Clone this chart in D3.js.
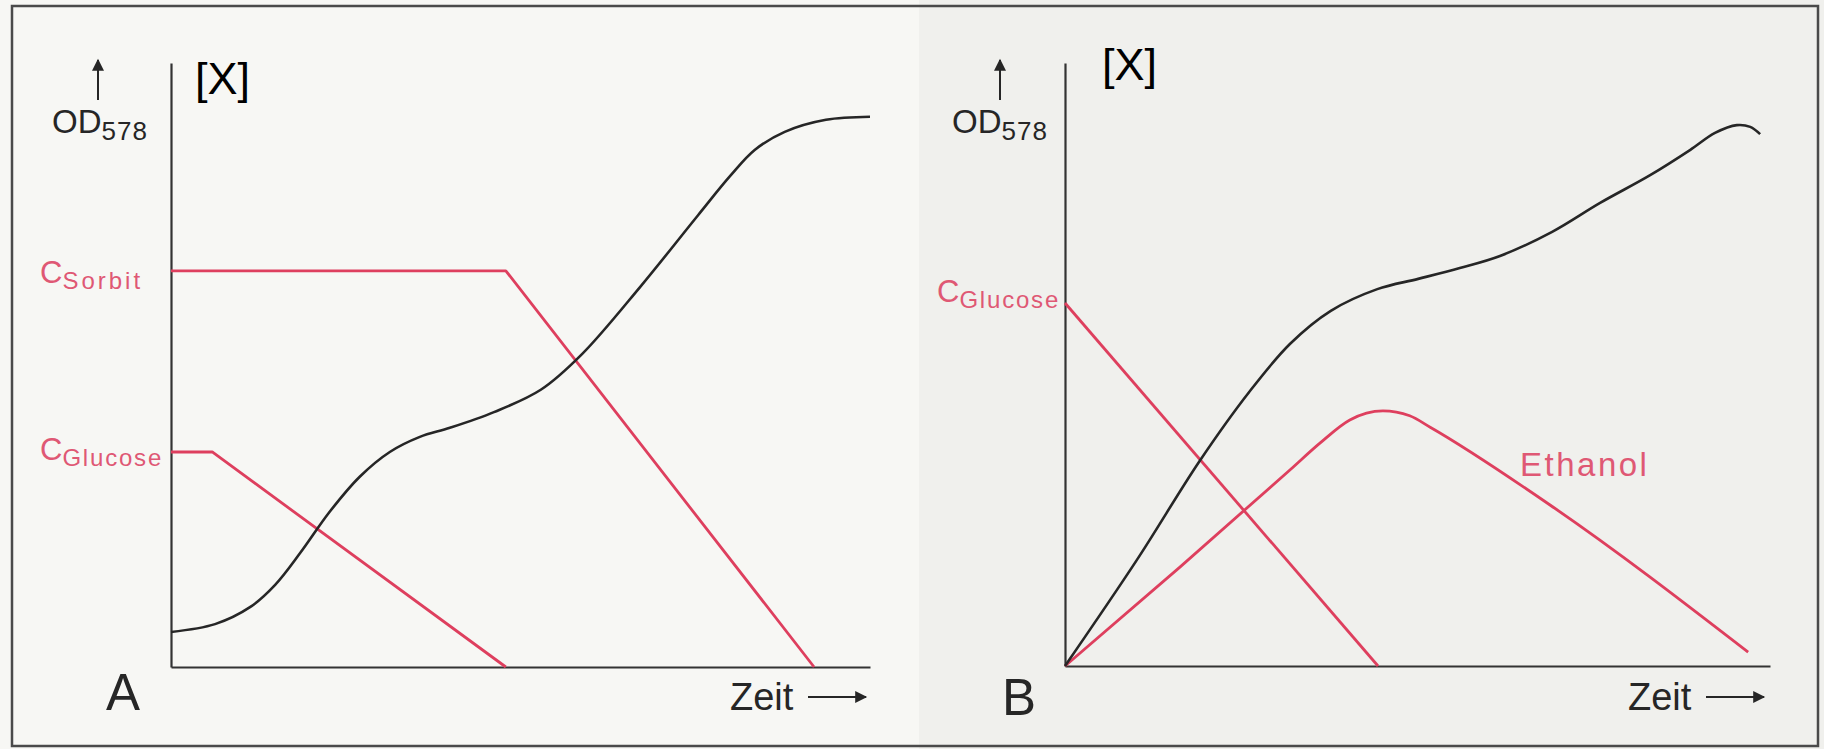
<!DOCTYPE html>
<html>
<head>
<meta charset="utf-8">
<script src="https://cdn.jsdelivr.net/npm/d3@7"></script>
<style>
  html, body { margin: 0; padding: 0; background: #f7f7f4; }
  svg { display: block; }
  text { font-family: "Liberation Sans", Arial, sans-serif; }
</style>
</head>
<body>
<div id="chart"></div>
<script>
// time and value in arbitrary units 0..100 (no ticks in the original)
var odA = [[0, 5.8], [6.3, 7.1], [11.3, 9.9], [14.9, 13.6], [18.5, 18.9], [22.7, 25.7], [27.0, 31.5],
    [31.3, 35.6], [35.6, 38.1], [39.9, 39.6], [46.2, 42.2], [52.9, 45.9], [58.8, 51.8], [67.1, 62.9],
    [75.4, 74.8], [80.0, 81.3], [83.5, 85.6], [87.8, 88.6], [93.7, 90.6], [100, 91.1]];
var sorbitA = [[0, 65.6], [47.9, 65.6], [92.0, 0]];
var glucoseA = [[0, 35.6], [5.9, 35.6], [47.9, 0]];

var odB = [[0, 0], [10.2, 17.6], [19.1, 34.0], [26.1, 45.4], [31.9, 53.4], [37.7, 58.9], [44.3, 62.5],
    [50.1, 64.2], [56.0, 66.0], [61.7, 68.0], [69.1, 72.0], [75.9, 76.8], [83.0, 81.4], [88.7, 85.6],
    [92.2, 88.4], [95.3, 89.7], [97.2, 89.4], [98.6, 88.2]];
var glucoseB = [[0, 60.2], [44.4, 0]];
var ethanolB = [[0, 0], [16.3, 16.4], [31.9, 32.5], [36.2, 37.0], [40.4, 40.8], [45.1, 42.3],
    [48.9, 41.5], [51.8, 39.6], [68.8, 26.7], [96.9, 2.3]];

var W = 1824, H = 749,
    red = "#de3f5e",
    redText = "#df5874",
    ink = "#262626";

var svg = d3.select("#chart")
    .append("svg")
    .attr("width", W)
    .attr("height", H);

svg.append("rect").attr("width", W).attr("height", H).attr("fill", "#f7f7f4");
svg.append("rect").attr("x", 919).attr("y", 0).attr("width", W - 919).attr("height", H).attr("fill", "#f0f0ed");

// outer frame
svg.append("rect")
    .attr("x", 12).attr("y", 6)
    .attr("width", 1806).attr("height", 740)
    .attr("fill", "none")
    .attr("stroke", "#4a4a4a")
    .attr("stroke-width", 2.5);

svg.append("defs").append("marker")
    .attr("id", "head")
    .attr("viewBox", "0 0 10 10")
    .attr("refX", 9).attr("refY", 5)
    .attr("markerWidth", 14).attr("markerHeight", 12)
    .attr("markerUnits", "userSpaceOnUse")
    .attr("orient", "auto")
    .append("path")
    .attr("d", "M0,0 L10,5 L0,10 Z")
    .attr("fill", ink);

function panel(p) {
    var x = d3.scaleLinear().domain([0, 100]).range([p.left, p.right]);
    var y = d3.scaleLinear().domain([0, 100]).range([p.bottom, p.top]);
    var g = svg.append("g");

    var line = d3.line()
        .x(function (d) { return x(d[0]); })
        .y(function (d) { return y(d[1]); });

    // axes without ticks
    g.append("g")
        .attr("transform", "translate(0," + p.bottom + ")")
        .call(d3.axisBottom(x).ticks(0).tickSizeOuter(0));
    g.append("g")
        .attr("transform", "translate(" + p.left + ",0)")
        .call(d3.axisLeft(y).ticks(0).tickSizeOuter(0));
    g.selectAll(".domain").attr("stroke", "#333").attr("stroke-width", 2.2);

    p.red.forEach(function (s) {
        g.append("path")
            .datum(s.data)
            .attr("fill", "none")
            .attr("stroke", red)
            .attr("stroke-width", 2.8)
            .attr("stroke-linejoin", "round")
            .attr("d", line.curve(s.smooth ? d3.curveMonotoneX : d3.curveLinear));
    });

    g.append("path")
        .datum(p.od)
        .attr("fill", "none")
        .attr("stroke", ink)
        .attr("stroke-width", 2.6)
        .attr("d", line.curve(d3.curveCatmullRom.alpha(0.5)));

    // y label with arrow
    g.append("line")
        .attr("x1", p.arrowX).attr("x2", p.arrowX)
        .attr("y1", 100).attr("y2", 60)
        .attr("stroke", ink).attr("stroke-width", 2)
        .attr("marker-end", "url(#head)");
    var od = g.append("text")
        .attr("x", p.odX).attr("y", 133)
        .attr("fill", ink)
        .attr("font-size", 33);
    od.append("tspan").text("OD");
    od.append("tspan").attr("dy", 7).attr("font-size", 26).attr("letter-spacing", 1).text("578");

    g.append("text")
        .attr("x", p.xLabelX).attr("y", p.xLabelY)
        .attr("fill", "#000")
        .attr("font-size", 45)
        .text("[X]");

    // concentration labels
    p.labels.forEach(function (l) {
        var t = g.append("text")
            .attr("x", l.x).attr("y", l.y)
            .attr("fill", redText)
            .attr("font-size", l.big || 31);
        if (l.sub) {
            t.append("tspan").text(l.main);
            t.append("tspan").attr("dy", 6).attr("font-size", 24)
                .attr("letter-spacing", l.ls).text(l.sub);
        } else {
            t.attr("letter-spacing", l.ls).text(l.main);
        }
    });

    // panel letter and time axis label
    g.append("text")
        .attr("x", p.letterX).attr("y", p.letterY)
        .attr("fill", ink)
        .attr("font-size", 51)
        .text(p.letter);
    g.append("text")
        .attr("x", p.zeitX).attr("y", 710)
        .attr("fill", ink)
        .attr("font-size", 38)
        .text("Zeit");
    g.append("line")
        .attr("x1", p.zeitX + 78).attr("x2", p.zeitX + 136)
        .attr("y1", 697).attr("y2", 697)
        .attr("stroke", ink).attr("stroke-width", 2)
        .attr("marker-end", "url(#head)");
}

panel({
    left: 171, right: 870, top: 63, bottom: 667,
    od: odA,
    red: [{ data: sorbitA }, { data: glucoseA }],
    arrowX: 98, odX: 52, xLabelX: 195, xLabelY: 94,
    labels: [
        { x: 40, y: 283, main: "C", sub: "Sorbit", ls: 3 },
        { x: 40, y: 460, main: "C", sub: "Glucose", ls: 1.8 }
    ],
    letter: "A", letterX: 106, letterY: 710,
    zeitX: 730
});

panel({
    left: 1065, right: 1770, top: 63, bottom: 666,
    od: odB,
    red: [{ data: glucoseB }, { data: ethanolB, smooth: true }],
    arrowX: 1000, odX: 952, xLabelX: 1102, xLabelY: 80,
    labels: [
        { x: 937, y: 302, main: "C", sub: "Glucose", ls: 1.8 },
        { x: 1520, y: 476, main: "Ethanol", big: 33, ls: 2.5 }
    ],
    letter: "B", letterX: 1002, letterY: 715,
    zeitX: 1628
});
</script>
</body>
</html>
